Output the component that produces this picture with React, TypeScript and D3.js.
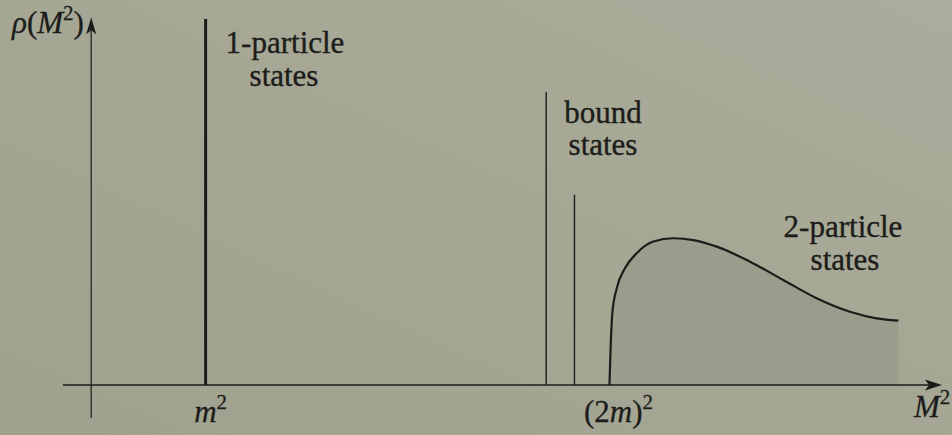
import React from "react";
import * as d3 from "d3";

// Spectral density rho(M^2): a one-particle delta spike, two bound-state spikes
// below threshold, and a two-particle continuum starting at (2m)^2.
const W = 952;
const H = 435;

// M^2 in units of m^2
const particleSpike = { m2: 1.0, rho: 10 };
const boundStates = [
  { m2: 3.53, rho: 8.0 },
  { m2: 3.74, rho: 5.2 },
];

// continuum rho(M^2)
const continuumM2 = [4.0, 4.009, 4.021, 4.054, 4.115, 4.202, 4.326, 4.474, 4.623, 4.797, 5.044, 5.291, 5.539, 5.787, 5.985, 6.146];
const continuumRho = [0.0, 1.05, 1.96, 2.64, 3.19, 3.6, 3.92, 4.01, 3.96, 3.78, 3.37, 2.87, 2.37, 2.0, 1.82, 1.76];

const axisX = { yAxisAt: 0.15, start: -0.06, end: 6.47 };
const axisY = { start: -0.9, end: 10.05 };

const tickValues = [1, 4];

const xs = d3.scaleLinear().domain([0, 6.5]).range([71, 946]);
const ys = d3.scaleLinear().domain([0, 10]).range([385, 19]);

const INK = "#1c1c1a";
const FONT = "Liberation Serif, serif";

export default function App() {
  const pts = continuumM2.map((m, i) => [m, continuumRho[i]] as [number, number]);
  const line = d3
    .line<[number, number]>()
    .x((d) => xs(d[0]))
    .y((d) => ys(d[1]))
    .curve(d3.curveMonotoneX);
  const area = d3
    .area<[number, number]>()
    .x((d) => xs(d[0]))
    .y0(ys(0))
    .y1((d) => ys(d[1]))
    .curve(d3.curveMonotoneX);

  const x0 = xs(axisX.start);
  const x1 = xs(axisX.end);
  const yb = ys(0);
  const ya = xs(axisX.yAxisAt);
  const yTop = ys(axisY.end);
  const yBot = ys(axisY.start);

  // LaTeX-style arrow heads
  const rightArrow = `M${x1},${yb} L${x1 - 17},${yb - 5.5} L${x1 - 13},${yb} L${x1 - 17},${yb + 5.5} Z`;
  const upArrow = `M${ya},${yTop} L${ya - 5},${yTop + 17} L${ya},${yTop + 13} L${ya + 5},${yTop + 17} Z`;

  const labelFont = { fontFamily: FONT, fontSize: 31, fill: INK, stroke: INK, strokeWidth: 0.35 };
  const mathFont = { fontFamily: FONT, fontSize: 31, fill: INK, stroke: INK, strokeWidth: 0.3 };

  return (
    <svg
      width={W}
      height={H}
      viewBox={`0 0 ${W} ${H}`}
      style={{ position: "absolute", left: 0, top: 0, display: "block" }}
    >
      <defs>
        <linearGradient id="paper" x1="0" y1="1" x2="1" y2="0">
          <stop offset="0" stopColor="#a0a290" />
          <stop offset="0.5" stopColor="#a5a794" />
          <stop offset="1" stopColor="#abac9b" />
        </linearGradient>
      </defs>
      <rect x={0} y={0} width={W} height={H} fill="url(#paper)" />

      {/* continuum */}
      <path d={area(pts) ?? ""} fill="#9b9d8c" />
      <path d={line(pts) ?? ""} fill="none" stroke={INK} strokeWidth={2.2} />

      {/* axes */}
      <line x1={x0} y1={yb} x2={x1 - 13} y2={yb} stroke={INK} strokeWidth={1.4} />
      <path d={rightArrow} fill={INK} />
      <line x1={ya} y1={yBot} x2={ya} y2={yTop + 13} stroke={INK} strokeWidth={1.2} />
      <path d={upArrow} fill={INK} />

      {/* one-particle spike */}
      <line
        x1={xs(particleSpike.m2)}
        x2={xs(particleSpike.m2)}
        y1={yb}
        y2={ys(particleSpike.rho)}
        stroke={INK}
        strokeWidth={3}
      />

      {/* bound states */}
      {boundStates.map((b, i) => (
        <line key={i} x1={xs(b.m2)} x2={xs(b.m2)} y1={yb} y2={ys(b.rho)} stroke={INK} strokeWidth={1.4} />
      ))}

      {/* text labels */}
      <g {...labelFont} textAnchor="middle">
        <text x={285} y={53}>1-particle</text>
        <text x={284} y={86}>states</text>
        <text x={603} y={123}>bound</text>
        <text x={603} y={155}>states</text>
        <text x={843} y={237}>2-particle</text>
        <text x={845} y={270}>states</text>
      </g>

      <g {...mathFont}>
        {/* y-axis title */}
        <text x={12} y={33}>
          <tspan fontStyle="italic">ρ</tspan>
          <tspan>(</tspan>
          <tspan fontStyle="italic">M</tspan>
          <tspan fontSize={21} dy={-13}>2</tspan>
          <tspan dy={13}>)</tspan>
        </text>

        {/* x ticks */}
        <text x={xs(tickValues[0]) + 5} y={422} textAnchor="middle">
          <tspan fontStyle="italic">m</tspan>
          <tspan fontSize={21} dy={-13}>2</tspan>
        </text>
        <text x={xs(tickValues[1]) + 9} y={422} textAnchor="middle">
          <tspan>(2</tspan>
          <tspan fontStyle="italic">m</tspan>
          <tspan>)</tspan>
          <tspan fontSize={21} dy={-13}>2</tspan>
        </text>

        {/* x-axis title */}
        <text x={914} y={417}>
          <tspan fontStyle="italic">M</tspan>
          <tspan fontSize={21} dy={-13}>2</tspan>
        </text>
      </g>
    </svg>
  );
}
